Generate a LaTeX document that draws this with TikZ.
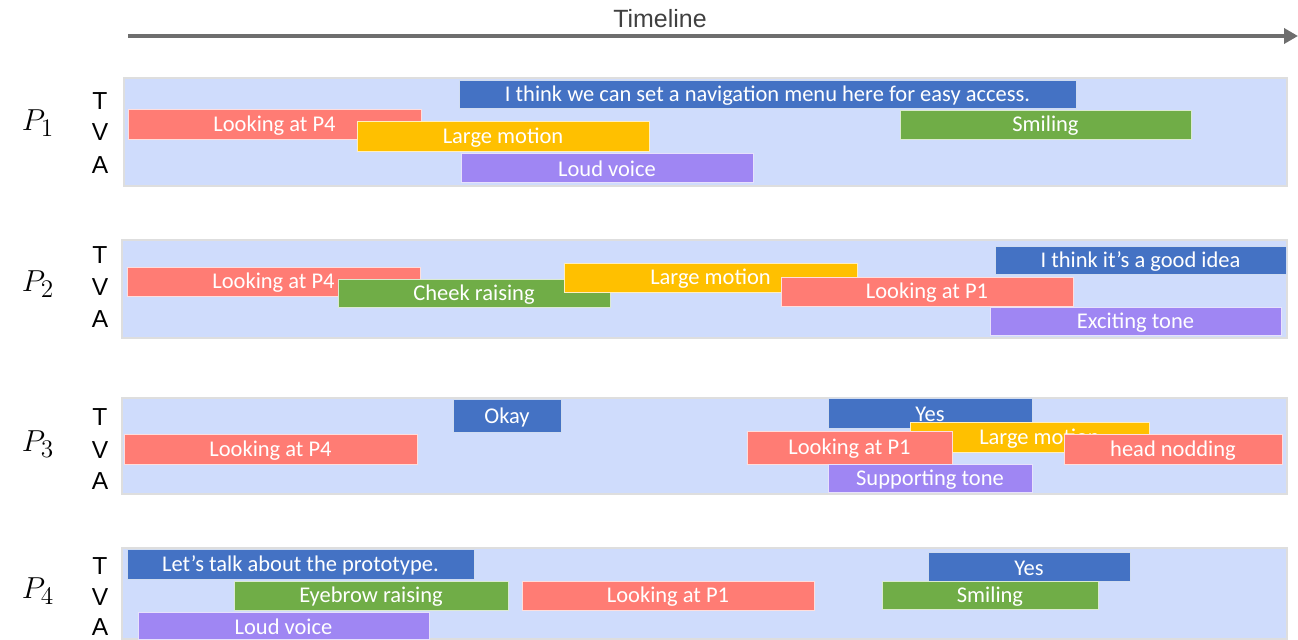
\documentclass[tikz,border=0pt]{standalone}
\usepackage{fontspec}
\setmainfont{Carlito}
\newfontfamily\arialfont{Liberation Sans}
\usetikzlibrary{arrows.meta}
\definecolor{panelbg}{RGB}{207,220,252}
\definecolor{panelrim}{RGB}{222,222,222}
\definecolor{tblue}{RGB}{68,114,196}
\definecolor{vred}{RGB}{255,124,116}
\definecolor{vorange}{RGB}{255,192,0}
\definecolor{vgreen}{RGB}{112,173,71}
\definecolor{apurple}{RGB}{159,134,243}
\definecolor{axisgray}{RGB}{110,110,110}

\begin{document}
\begin{tikzpicture}[x=0.02cm,y=-0.02cm,
  panel/.style={fill=panelbg,draw=panelrim,line width=0.8pt},
  seg/.style={fill=#1,draw=white!75!#1,line width=0.4pt},
  segtxt/.style={text=white,inner sep=0pt,yshift=-0.03cm,font=\fontsize{12.8}{14}\selectfont},
  who/.style={font=\fontsize{19}{22}\selectfont},
  mod/.style={font=\arialfont\fontsize{14}{16}\selectfont}]
\useasboundingbox (0,0) rectangle (1298,639);

% timeline
\coordinate (tstart) at (128,36);
\coordinate (tend) at (1298,36);
\draw[axisgray,line width=2.3pt,-{Triangle[length=0.28cm,width=0.3cm]}] (tstart) -- (tend);
\node[font=\arialfont\fontsize{14.2}{16}\selectfont,text=black!75] (tl) at (660,19) {Timeline};

% participant 1
\draw[panel] (124,78) rectangle (1287,186);
\node[who] (p1) at (38,123) {$P_1$};
\node[mod] (p1t) at (100,101) {T};
\node[mod] (p1v) at (100,132) {V};
\node[mod] (p1a) at (100,165) {A};
\draw[seg=tblue] (459,80) rectangle (1076,108) node[pos=.5,segtxt] (p1say) {I think we can set a navigation menu here for easy access.};
\draw[seg=vred] (128,109) rectangle (421,139) node[pos=.5,segtxt] (p1look) {Looking at P4};
\draw[seg=vorange] (357,121) rectangle (649,151) node[pos=.5,segtxt] (p1move) {Large motion};
\draw[seg=vgreen] (900,110) rectangle (1191,139) node[pos=.5,segtxt] (p1smile) {Smiling};
\draw[seg=apurple] (461,153) rectangle (753,182) node[pos=.5,segtxt] (p1loud) {Loud voice};

% participant 2
\draw[panel] (122,240) rectangle (1287,338);
\node[who] (p2) at (38,284) {$P_2$};
\node[mod] (p2t) at (100,255) {T};
\node[mod] (p2v) at (100,287) {V};
\node[mod] (p2a) at (100,319) {A};
\draw[seg=tblue] (995,246) rectangle (1286,274) node[pos=.5,segtxt] (p2say) {I think it’s a good idea};
\draw[seg=vred] (127,267) rectangle (420,296) node[pos=.5,segtxt] (p2look) {Looking at P4};
\draw[seg=vgreen] (338,279) rectangle (610,307) node[pos=.5,segtxt] (p2cheek) {Cheek raising};
\draw[seg=vorange] (564,263) rectangle (857,292) node[pos=.5,segtxt] (p2move) {Large motion};
\draw[seg=vred] (781,277) rectangle (1073,306) node[pos=.5,segtxt] (p2lookb) {Looking at P1};
\draw[seg=apurple] (990,307) rectangle (1281,335) node[pos=.5,segtxt] (p2tone) {Exciting tone};

% participant 3
\draw[panel] (122,398) rectangle (1287,494);
\node[who] (p3) at (38,444) {$P_3$};
\node[mod] (p3t) at (100,417) {T};
\node[mod] (p3v) at (100,450) {V};
\node[mod] (p3a) at (100,481) {A};
\draw[seg=tblue] (453,399) rectangle (561,432) node[pos=.5,segtxt] (p3okay) {Okay};
\draw[seg=vred] (124,434) rectangle (417,464) node[pos=.5,segtxt] (p3look) {Looking at P4};
\draw[seg=tblue] (828,398) rectangle (1032,428) node[pos=.5,segtxt] (p3yes) {Yes};
\draw[seg=vorange] (910,422) rectangle (1149,452) node[pos=.5,segtxt,xshift=0.2cm] (p3move) {Large motion};
\draw[seg=vred] (747,431) rectangle (952,464) node[pos=.5,segtxt] (p3lookb) {Looking at P1};
\draw[seg=vred] (1064,434) rectangle (1282,464) node[pos=.5,segtxt] (p3nod) {head nodding};
\draw[seg=apurple] (828,464) rectangle (1032,492) node[pos=.5,segtxt] (p3tone) {Supporting tone};

% participant 4
\draw[panel] (122,548) rectangle (1287,639);
\node[who] (p4) at (38,591) {$P_4$};
\node[mod] (p4t) at (100,566) {T};
\node[mod] (p4v) at (100,597) {V};
\node[mod] (p4a) at (100,627) {A};
\draw[seg=tblue] (127,549) rectangle (474,579) node[pos=.5,segtxt] (p4say) {Let’s talk about the prototype.};
\draw[seg=vgreen] (234,581) rectangle (508,610) node[pos=.5,segtxt] (p4brow) {Eyebrow raising};
\draw[seg=vred] (522,581) rectangle (814,610) node[pos=.5,segtxt] (p4look) {Looking at P1};
\draw[seg=tblue] (928,552) rectangle (1130,581) node[pos=.5,segtxt] (p4yes) {Yes};
\draw[seg=vgreen] (882,581) rectangle (1098,609) node[pos=.5,segtxt] (p4smile) {Smiling};
\draw[seg=apurple] (138,612) rectangle (429,639) node[pos=.5,segtxt] (p4loud) {Loud voice};

\end{tikzpicture}
\end{document}
